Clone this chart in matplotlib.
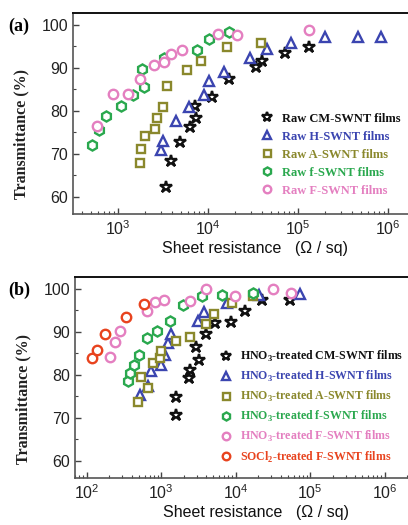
import numpy as np
import matplotlib
matplotlib.use("Agg")
import matplotlib.pyplot as plt

plt.rcParams["font.family"] = "Liberation Sans"
plt.rcParams["mathtext.fontset"] = "custom"
plt.rcParams["mathtext.bf"] = "Liberation Serif:bold"
plt.rcParams["mathtext.rm"] = "Liberation Sans"

# --------------------------------------------
# Panel (a): raw films
# --------------------------------------------
a_cm_r = [3440, 3920, 4840, 6250, 7410, 7110, 11200, 17100, 33900, 40200, 72300, 132000]
a_cm_t = [62.2, 68.3, 72.7, 76.1, 78.3, 81.0, 83.1, 87.3, 90.2, 91.5, 93.4, 94.8]

a_h_r = [3030, 3160, 4380, 6150, 8950, 10300, 14900, 29000, 45600, 83000, 198000, 465000, 843000]
a_h_t = [70.8, 72.9, 77.7, 80.8, 83.7, 87.0, 89.0, 92.3, 94.4, 95.7, 97.2, 97.2, 97.2]

a_a_r = [1740, 1820, 2010, 2550, 2710, 3160, 3530, 5890, 8300, 16400, 38500]
a_a_t = [67.8, 71.1, 74.2, 75.8, 78.3, 80.8, 85.8, 89.4, 91.6, 94.9, 95.7]

a_f_r = [519, 610, 729, 1090, 1470, 1930, 1860, 3240, 7600, 10300, 17100]
a_f_t = [72.1, 75.6, 78.7, 81.1, 83.7, 85.4, 89.6, 92.3, 94.0, 96.7, 98.2]

a_ff_r = [585, 879, 1290, 1740, 2490, 3240, 3920, 5190, 12900, 21000, 132000]
a_ff_t = [76.4, 83.9, 83.9, 87.3, 90.7, 91.2, 93.2, 94.2, 97.9, 97.7, 98.8]

# --------------------------------------------
# Panel (b): treated films
# --------------------------------------------
b_cm_r = [1600, 1600, 2360, 2420, 2960, 3210, 4030, 5210, 8730, 13300, 22300, 53600]
b_cm_t = [70.7, 74.8, 79.2, 81.0, 86.4, 83.5, 89.5, 92.0, 92.2, 94.9, 97.4, 97.3]

b_h_r = [514, 665, 738, 1005, 1114, 1236, 1368, 3120, 3760, 7640, 20700, 72900]
b_h_t = [75.3, 77.4, 80.8, 82.2, 84.5, 87.4, 89.5, 92.5, 94.5, 96.6, 98.5, 98.8]

b_a_r = [489, 542, 665, 776, 975, 1005, 1600, 2470, 4040, 5070, 8830, 17000]
b_a_t = [73.7, 79.5, 77.0, 82.8, 83.8, 85.6, 87.8, 88.8, 91.8, 94.1, 96.6, 98.2]

b_f_r = [359, 385, 432, 504, 646, 879, 1300, 1960, 3570, 6620, 16900]
b_f_t = [78.5, 80.5, 82.2, 84.5, 88.5, 90.1, 92.5, 96.2, 98.2, 98.5, 99.0]

b_ff_r = [208, 238, 277, 652, 815, 1080, 2470, 3950, 9910, 32000, 55200]
b_ff_t = [84.2, 87.5, 90.2, 94.9, 96.8, 97.4, 97.2, 99.9, 98.4, 99.8, 99.0]

b_soc_r = [118, 138, 178, 333, 589]
b_soc_t = [83.9, 85.8, 89.5, 93.4, 96.5]

labels_a = ["Raw CM-SWNT films", "Raw H-SWNT films", "Raw A-SWNT films",
            "Raw f-SWNT films", "Raw F-SWNT films"]
labels_b = [r"HNO$_{\mathbf{3}}$-treated CM-SWNT films",
            r"HNO$_{\mathbf{3}}$-treated H-SWNT films",
            r"HNO$_{\mathbf{3}}$-treated A-SWNT films",
            r"HNO$_{\mathbf{3}}$-treated f-SWNT films",
            r"HNO$_{\mathbf{3}}$-treated F-SWNT films",
            r"SOCl$_{\mathbf{2}}$-treated F-SWNT films"]

c_black = "#111111"
c_blue = "#3b45b0"
c_olive = "#8a882c"
c_green = "#2aa84e"
c_pink = "#e47fc0"
c_red = "#e8431e"

styles = [("*", c_black, 9), ("^", c_blue, 7), ("s", c_olive, 6.3),
          ("h", c_green, 7.3), ("o", c_pink, 6.8), ("o", c_red, 6.8)]


def draw_series(ax, series, labels):
    for (r, t), (m, c, ms), lab in zip(series, styles, labels):
        ax.plot(r, t, linestyle="none", marker=m, markersize=ms,
                markerfacecolor="white", markeredgecolor=c,
                markeredgewidth=1.7, label=lab)


def style_axis(ax, xlim, label_y):
    ax.set_xscale("log")
    ax.set_xlim(*xlim)
    ax.set_ylim(56, 102.7)
    ax.set_yticks([60, 70, 80, 90, 100])
    ax.set_yticks([65, 75, 85, 95], minor=True)
    ax.tick_params(which="both", direction="in", labelsize=11.5,
                   labelcolor="#222222", color="#444444")
    ax.tick_params(axis="x", which="major", pad=4)
    ax.tick_params(which="major", length=4, width=1)
    ax.tick_params(which="minor", length=2.5, width=0.8)
    for s in ["top", "right"]:
        ax.spines[s].set_linewidth(1.4)
        ax.spines[s].set_color("#111111")
    for s in ["left", "bottom"]:
        ax.spines[s].set_linewidth(1.2)
        ax.spines[s].set_color("#555555")
    ax.set_ylabel("Transmittance (%)", family="Liberation Serif",
                  fontweight="bold", fontsize=11.5, color="#222222")
    ax.yaxis.set_label_coords(-0.13, label_y)
    ax.set_xlabel("Sheet resistance   (\u03a9 / sq)", fontsize=11.5,
                  color="#111111", va="top")
    ax.xaxis.set_label_coords(0.54, -0.135)


fig = plt.figure(figsize=(4.08, 5.25), dpi=100)

ax1 = fig.add_axes([73 / 408, 1 - 214 / 525, 337 / 408, 201 / 525])
draw_series(ax1, [(a_cm_r, a_cm_t), (a_h_r, a_h_t), (a_a_r, a_a_t),
                  (a_f_r, a_f_t), (a_ff_r, a_ff_t)], labels_a)
style_axis(ax1, (10 ** 2.5, 10 ** 6.244), 0.40)
ax1.legend(loc="upper left", bbox_to_anchor=(0.54, 0.535), frameon=False,
           prop={"family": "Liberation Serif", "weight": "bold", "size": 9.0},
           labelcolor=[c_black, c_blue, c_olive, c_green, c_pink],
           handlelength=1.0, handletextpad=0.7, labelspacing=0.48,
           borderpad=0, markerscale=0.8)
fig.text(8 / 408, 1 - 26 / 525, "(a)", family="Liberation Serif",
         fontweight="bold", fontsize=13, va="center")

ax2 = fig.add_axes([75 / 408, 1 - 478 / 525, 335 / 408, 201 / 525])
draw_series(ax2, [(b_cm_r, b_cm_t), (b_h_r, b_h_t), (b_a_r, b_a_t),
                  (b_f_r, b_f_t), (b_ff_r, b_ff_t), (b_soc_r, b_soc_t)],
            labels_b)
style_axis(ax2, (10 ** 1.843, 10 ** 6.34), 0.393)
ax2.legend(loc="upper left", bbox_to_anchor=(0.415, 0.672), frameon=False,
           prop={"family": "Liberation Serif", "weight": "bold", "size": 8.6},
           labelcolor=[c_black, c_blue, c_olive, c_green, c_pink, c_red],
           handlelength=1.0, handletextpad=0.7, labelspacing=0.42,
           borderpad=0, markerscale=0.8)
fig.text(8 / 408, 1 - 290 / 525, "(b)", family="Liberation Serif",
         fontweight="bold", fontsize=13, va="center")

fig.savefig("out.png", dpi=100)
